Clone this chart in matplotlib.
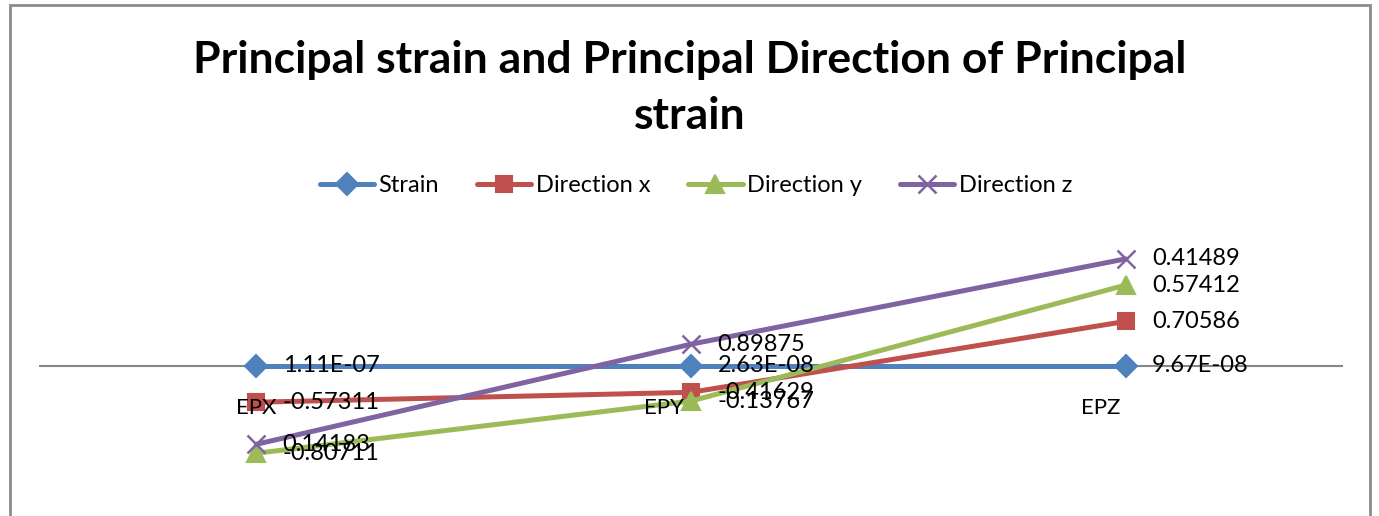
import matplotlib.pyplot as plt
from matplotlib.patches import Rectangle
import numpy as np

plt.rcParams['font.family'] = ['Lato', 'DejaVu Sans']

categories = ['EPX', 'EPY', 'EPZ']
series_names = ['Strain', 'Direction x', 'Direction y', 'Direction z']
strain = [1.11e-07, 2.63e-08, 9.67e-08]
direction_x = [-0.57311, -0.41629, 0.70586]
direction_y = [-0.80711, -0.13767, 0.57412]
direction_z = [0.14183, 0.89875, 0.41489]
label_text = [['1.11E-07', '2.63E-08', '9.67E-08'],
              ['-0.57311', '-0.41629', '0.70586'],
              ['-0.80711', '-0.13767', '0.57412'],
              ['0.14183', '0.89875', '0.41489']]

colors = ['#4F81BD', '#C0504D', '#9BBB59', '#8064A2']
markers = ['D', 's', '^', 'x']
msizes = [11, 12, 13, 13]

W, H = 1379, 516
fig = plt.figure(figsize=(W / 100, H / 100), dpi=100)

# chart frame
fig.patches.append(Rectangle((10 / W, -0.05), 1360 / W, 1.05 - 5 / H,
                             transform=fig.transFigure, fill=False,
                             edgecolor='#8c8c8c', linewidth=2, zorder=0))

ax = fig.add_axes([39 / W, 0, 1304 / W, (516 - 220) / H])
ax.set_xlim(-0.5, 2.5)
scale = 63.2
ax.set_ylim(-(516 - 366) / scale, (366 - 220) / scale)
for s in ax.spines.values():
    s.set_visible(False)
ax.set_xticks([])
ax.set_yticks([])
ax.axhline(0, color='#868686', linewidth=1.5, zorder=1)

# stacked line chart
x = np.arange(len(categories))
stack = np.cumsum(np.array([strain, direction_x, direction_y, direction_z]), axis=0)
for i, name in enumerate(series_names):
    ax.plot(x, stack[i], color=colors[i], linewidth=3.6, marker=markers[i],
            markersize=msizes[i], markeredgewidth=1.5 if markers[i] != 'x' else 1.8,
            label=name, zorder=3 + i, solid_capstyle='round')
    for j in range(len(categories)):
        ax.annotate(label_text[i][j], (x[j], stack[i][j]), xytext=(19, 0),
                    textcoords='offset points', va='center', ha='left',
                    fontsize=17, color='black', zorder=10)

# category labels just under the zero line
cat_shift = [0, -27, -25]
for j, cat in enumerate(categories):
    ax.annotate(cat, (x[j], 0), xytext=(cat_shift[j], -42),
                textcoords='offset pixels', ha='center', va='center',
                fontsize=16, color='black', zorder=12)

fig.text(0.5, 1 - 88 / H, 'Principal strain and Principal Direction of Principal\nstrain',
         ha='center', va='center', fontsize=32, fontweight='bold',
         linespacing=1.5)

fig.legend(loc='center', bbox_to_anchor=(696 / W, 1 - 186 / H), ncol=4,
           frameon=False, fontsize=17, handlelength=2.3, columnspacing=1.6,
           handletextpad=0.2)

fig.savefig('out.png', dpi=100)
